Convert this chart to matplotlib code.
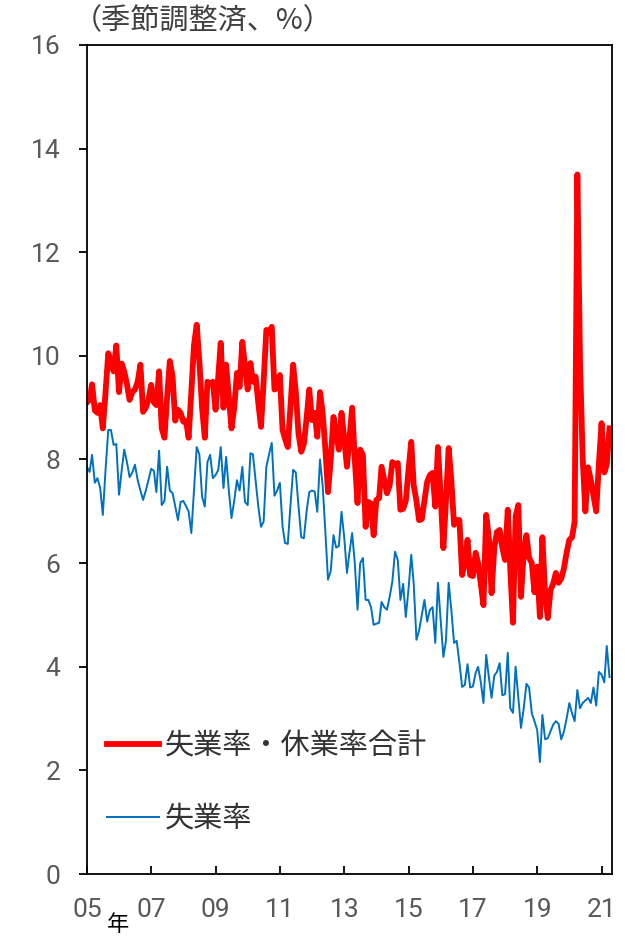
import matplotlib
matplotlib.use("Agg")
import matplotlib.pyplot as plt
from matplotlib import font_manager as fm
import pandas as pd

plt.rcParams['font.family'] = ['Noto Sans CJK JP', 'DejaVu Sans']

# monthly, Jan 2005 - Apr 2021 (seasonally adjusted, %)
total_05_10 = [
    9.1, 9.15, 9.45, 8.95, 8.9, 9.05, 8.6, 9.3, 10.05, 9.9, 9.7, 10.2,
    9.3, 9.85, 9.7, 9.45, 9.15, 9.3, 9.35, 9.5, 9.83, 8.92, 9.0, 9.15,
    9.44, 9.1, 9.05, 9.7, 8.6, 8.42, 9.2, 9.9, 9.6, 8.75, 8.96, 8.9,
    8.73, 8.75, 8.42, 9.3, 10.2, 10.6, 9.9, 9.0, 8.42, 9.5, 9.45, 9.5,
    8.96, 9.6, 10.25, 9.0, 9.83, 9.2, 8.6, 9.0, 9.67, 9.4, 10.27, 9.8,
    9.35, 9.86, 9.5, 9.6, 9.1, 8.63, 9.5, 10.5, 10.45, 10.56, 9.35, 9.4,
]
total_11_16 = [
    9.63, 8.57, 8.4, 8.24, 9.0, 9.83, 9.3, 8.5, 8.15, 8.3, 8.8, 9.35,
    8.76, 8.9, 8.44, 9.3, 8.9, 8.2, 7.37, 8.0, 8.82, 8.5, 8.19, 8.9,
    8.4, 7.86, 8.4, 9.0, 8.0, 7.16, 8.19, 8.09, 6.7, 7.18, 7.15, 6.54,
    7.22, 7.25, 7.86, 7.6, 7.35, 7.5, 7.95, 7.9, 7.93, 7.03, 7.05, 7.2,
    7.8, 8.34, 7.5, 7.2, 6.83, 6.85, 7.2, 7.57, 7.7, 7.74, 7.09, 8.24,
    7.3, 6.29, 7.2, 8.22, 7.6, 6.74, 6.83, 6.83, 5.77, 6.0, 6.45, 5.77,
]
total_17_21 = [
    5.75, 6.2, 6.0, 5.6, 5.19, 6.93, 6.5, 5.42, 6.3, 6.6, 6.64, 6.3,
    6.06, 7.03, 5.9, 4.85, 6.9, 7.12, 5.35, 6.2, 6.54, 6.1, 6.0, 5.44,
    5.93, 4.96, 6.5, 5.4, 4.94, 5.48, 5.6, 5.81, 5.62, 5.7, 5.9, 6.2,
    6.45, 6.5, 6.8, 13.5, 9.9, 8.0, 7.0, 7.85, 7.6, 7.3, 7.0, 7.9,
    8.7, 7.75, 7.9, 8.6,
]

unemp_05_10 = [
    7.86, 7.76, 8.09, 7.55, 7.64, 7.45, 6.93, 7.8, 8.57, 8.57, 8.28, 8.3,
    7.32, 7.8, 8.19, 7.95, 7.66, 7.75, 7.9, 7.6, 7.4, 7.22, 7.4, 7.6,
    7.82, 7.78, 7.37, 8.17, 7.12, 7.2, 7.86, 7.4, 7.35, 7.1, 6.83, 7.18,
    7.2, 7.1, 7.0, 6.58, 7.4, 8.24, 8.1, 7.28, 7.09, 7.95, 8.09, 7.64,
    7.7, 7.8, 8.24, 7.45, 8.05, 7.4, 6.87, 7.2, 7.6, 7.4, 7.86, 7.18,
    7.12, 8.12, 8.1, 7.6, 7.1, 6.7, 6.8, 7.86, 8.1, 8.32, 7.3, 7.4,
]
unemp_11_16 = [
    7.55, 6.7, 6.39, 6.37, 7.1, 7.8, 7.75, 7.1, 6.5, 6.48, 7.0, 7.37,
    7.4, 7.38, 6.99, 8.0, 7.5, 6.6, 5.68, 5.85, 6.54, 6.3, 6.33, 6.99,
    6.5, 5.81, 6.2, 6.58, 6.0, 5.1, 6.0, 6.1, 5.29, 5.29, 5.15, 4.81,
    4.83, 4.85, 5.25, 5.15, 5.1, 5.35, 5.64, 6.22, 6.06, 5.29, 5.6, 4.96,
    5.5, 6.16, 5.6, 4.52, 4.7, 5.0, 5.29, 4.87, 5.1, 5.15, 4.46, 5.62,
    4.9, 4.19, 4.5, 5.62, 5.1, 4.46, 4.5, 4.07, 3.61, 3.65, 4.05, 3.6,
]
unemp_17_21 = [
    3.62, 3.88, 4.0, 3.7, 3.3, 4.23, 3.8, 3.4, 3.83, 3.9, 4.07, 3.45,
    3.47, 4.27, 3.2, 3.11, 4.0, 3.4, 2.82, 3.2, 3.67, 3.6, 3.1, 2.95,
    2.78, 2.16, 3.07, 2.6, 2.62, 2.75, 2.88, 2.95, 2.9, 2.6, 2.75, 3.0,
    3.3, 3.1, 2.95, 3.55, 3.2, 3.3, 3.35, 3.4, 3.3, 3.6, 3.25, 3.9,
    3.85, 3.7, 4.4, 3.8,
]

total = total_05_10 + total_11_16 + total_17_21
unemp = unemp_05_10 + unemp_11_16 + unemp_17_21
months = pd.date_range('2005-01-01', periods=len(total), freq='MS')

tick_years = list(range(2005, 2022, 2))
tick_labels = [f'{y % 100:02d}' for y in tick_years]

names = {f.name for f in fm.fontManager.ttflist}
num_font = 'Liberation Sans Narrow' if 'Liberation Sans Narrow' in names else 'Roboto'

fig = plt.figure(figsize=(6.25, 9.36), dpi=100)
ax = fig.add_axes([0.139, 0.0662, 0.84, 0.8858])

ax.plot(months, total, color='#FF0000', lw=4.2, label='失業率・休業率合計')
ax.plot(months, unemp, color='#0070C0', lw=1.4, label='失業率')

ax.set_ylim(0, 16)
ax.set_yticks(range(0, 17, 2))
ax.set_xlim(pd.Timestamp('2005-01-01'), pd.Timestamp('2021-04-28'))
ax.set_xticks([pd.Timestamp(f'{y}-01-01') for y in tick_years])
ax.set_xticklabels(tick_labels)

for s in ax.spines.values():
    s.set_linewidth(1.3)
ax.tick_params(axis='y', direction='out', length=6, width=1.3, pad=13,
               labelsize=19, labelcolor='#595959')
ax.tick_params(axis='x', direction='in', length=6, width=1.3, pad=17,
               labelsize=19, labelcolor='#595959')
for lab in ax.get_xticklabels() + ax.get_yticklabels():
    lab.set_fontfamily(num_font)

fig.text(0.117, 0.977, '（季節調整済、%）', fontsize=21, color='#404040', va='center')
fig.text(0.189, 0.012, '年', fontsize=16, color='black', va='center', ha='center')

ax.legend(loc='upper left', bbox_to_anchor=(0.038, 0.172), frameon=False,
          fontsize=21, handlelength=1.8, handletextpad=0.17, labelspacing=1.45,
          borderpad=0, borderaxespad=0, labelcolor='#333333')

fig.savefig('out.png', dpi=100)
